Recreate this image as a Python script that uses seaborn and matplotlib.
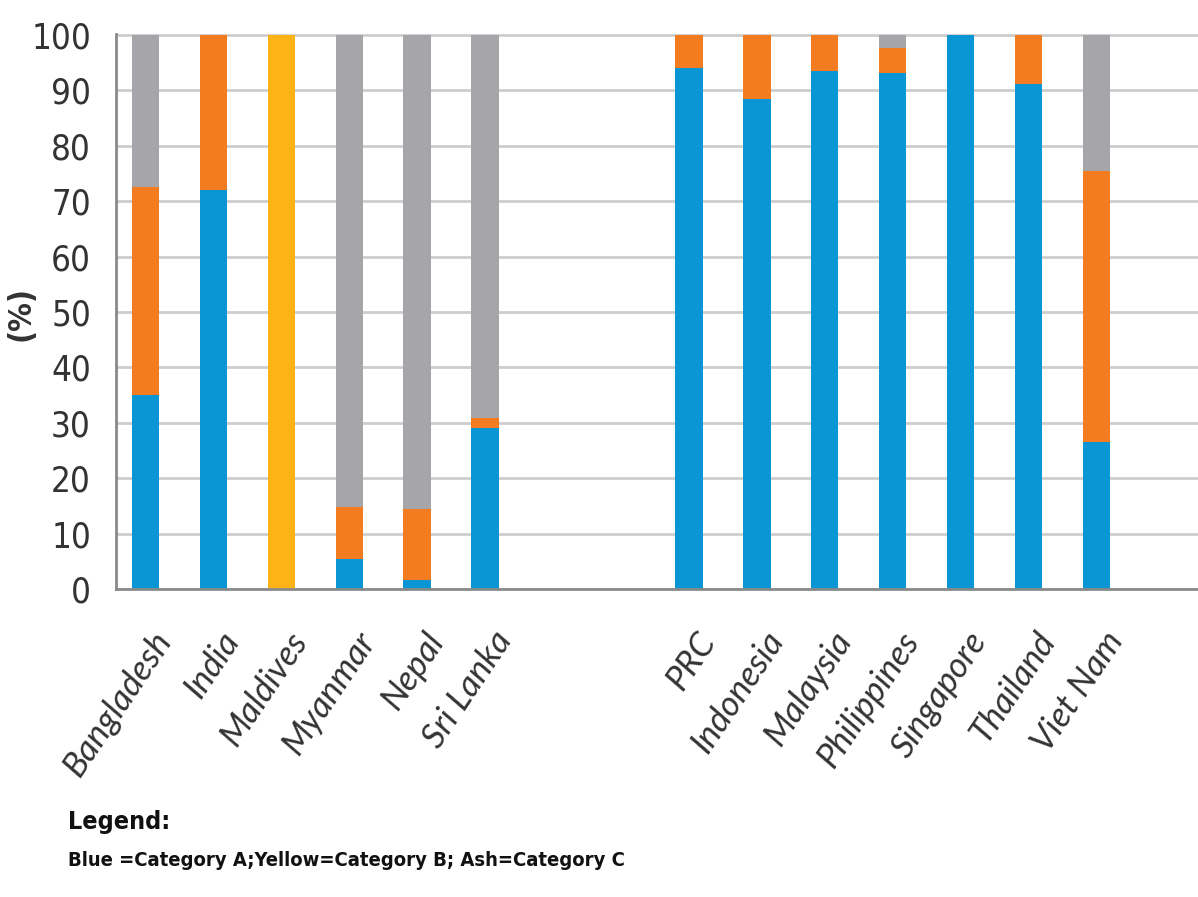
import matplotlib
matplotlib.use("Agg")
import matplotlib.pyplot as plt
import matplotlib.transforms as mtransforms
import seaborn as sns
import pandas as pd

# ---- data ----
countries = ["Bangladesh", "India", "Maldives", "Myanmar", "Nepal", "Sri Lanka",
             "PRC", "Indonesia", "Malaysia", "Philippines", "Singapore", "Thailand", "Viet Nam"]
cat_a = [35.0, 72.0, 0.0, 5.5, 1.7, 29.0, 94.0, 88.5, 93.6, 93.2, 100.0, 91.2, 26.5]
cat_b = [37.5, 28.0, 100.0, 9.3, 12.7, 1.8, 6.0, 11.5, 6.4, 4.5, 0.0, 8.8, 49.0]
cat_c = [27.5, 0.0, 0.0, 85.2, 85.6, 69.2, 0.0, 0.0, 0.0, 2.3, 0.0, 0.0, 24.5]
group_gap = ["", " "]  # empty slots separating South Asia from East/Southeast Asia
order = countries[:6] + group_gap + countries[6:]
yticks = list(range(0, 101, 10))

BLUE = "#0a95d5"
ORANGE = "#f47c20"
YELLOW = "#fdb215"
ASH = "#a6a6aa"
b_colors = {c: (YELLOW if c == "Maldives" else ORANGE) for c in countries}

df = pd.DataFrame({"country": countries, "a": cat_a, "b": cat_b, "c": cat_c})
df["ab"] = df["a"] + df["b"]
df["total"] = df["ab"] + df["c"]

sns.set_style("white")
plt.rcParams["font.family"] = ["DejaVu Sans"]

W, H = 1198, 897
fig = plt.figure(figsize=(W / 100, H / 100), dpi=100)
ax = fig.add_axes([116 / W, 1 - 589 / H, 1 - 116 / W, (589 - 34) / H])

bw = 0.40
sns.barplot(data=df, x="country", y="total", order=order, color=ASH,
            saturation=1, width=bw, linewidth=0, ax=ax)
sns.barplot(data=df, x="country", y="ab", order=order, hue="country",
            palette=b_colors, legend=False, saturation=1, width=bw,
            linewidth=0, ax=ax)
sns.barplot(data=df, x="country", y="a", order=order, color=BLUE,
            saturation=1, width=bw, linewidth=0, ax=ax)

ax.set_xlim(-0.43, 15.49)
ax.set_ylim(0, 100.2)
ax.set_yticks(yticks)
ax.set_xlabel("")
ax.set_ylabel("")
ax.set_axisbelow(True)
ax.yaxis.grid(True, color="#cdcdcd", linewidth=2)
ax.xaxis.grid(False)
for s in ["top", "right"]:
    ax.spines[s].set_visible(False)
for s in ["left", "bottom"]:
    ax.spines[s].set_color("#8a8a8a")
    ax.spines[s].set_linewidth(2)

ax.tick_params(axis="y", length=0, pad=18, labelsize=25, labelcolor="#333333")
for lab in ax.get_yticklabels():
    lab.set_family(["DejaVu Sans"])
    lab.set_fontstretch("condensed")

ax.tick_params(axis="x", length=0, pad=0)
offset = mtransforms.ScaledTranslation(0.06, -0.37, fig.dpi_scale_trans)
for lab in ax.get_xticklabels():
    lab.set_rotation(56)
    lab.set_ha("right")
    lab.set_va("top")
    lab.set_rotation_mode("anchor")
    lab.set_fontstyle("italic")
    lab.set_fontsize(25)
    lab.set_color("#333333")
    lab.set_family(["Lato", "DejaVu Sans"])
    lab.set_transform(lab.get_transform() + offset)

fig.text(21 / W, 1 - 313 / H, "(%)", rotation=90, ha="center", va="center",
         fontsize=23, fontweight="bold", fontstretch="condensed", color="#333333")

fig.text(68 / W, 1 - 822 / H, "Legend:", ha="left", va="center",
         fontsize=18, fontweight="bold", fontstretch="condensed", color="#111111")
fig.text(68 / W, 1 - 860 / H, "Blue =Category A;Yellow=Category B; Ash=Category C",
         ha="left", va="center", fontsize=14.5, fontweight="bold",
         fontstretch="condensed", color="#111111")

fig.savefig("out.png", dpi=100)
